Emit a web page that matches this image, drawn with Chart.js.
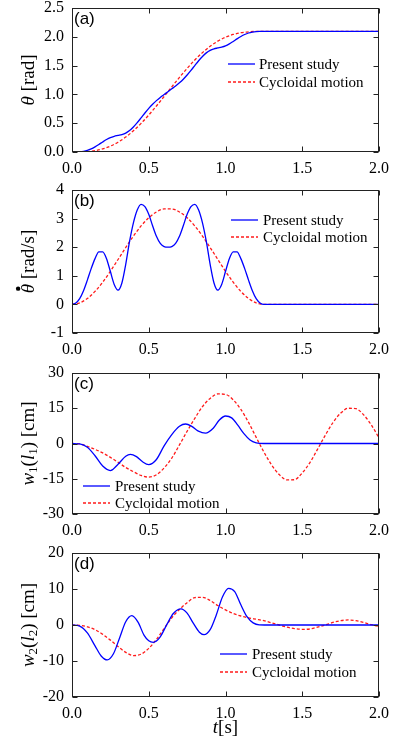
<!DOCTYPE html>
<html><head><meta charset="utf-8">
<script src="https://cdn.jsdelivr.net/npm/chart.js@4.4.1/dist/chart.umd.min.js"></script>
<style>
html,body{margin:0;padding:0;background:#fff;width:396px;height:739px;overflow:hidden;position:relative}
canvas{position:absolute;left:0}
.fl{position:absolute;left:-1000px;top:0;font-size:10px}
</style></head><body>
<span class="fl" style="font-family:'Liberation Serif'">0.5 Present</span>
<span class="fl" style="font-family:'Liberation Serif';font-style:italic">θ w l t</span>
<span class="fl" style="font-family:'Liberation Sans'">(a)</span>
<canvas id="ca" width="396" height="198" style="top:-20px;width:396px;height:198px"></canvas>
<canvas id="cb" width="396" height="198" style="top:158px;width:396px;height:198px"></canvas>
<canvas id="cc" width="396" height="202" style="top:336px;width:396px;height:202px"></canvas>
<canvas id="cd" width="396" height="221" style="top:518px;width:396px;height:221px"></canvas>
<script>
// ---------------- data ----------------
const xTickValues = [0, 0.5, 1.0, 1.5, 2.0];
const seriesNames = ["Present study", "Cycloidal motion"];

// fine time grid for panels (a),(b) "Present study"
const tFine = [0,0.025,0.05,0.075,0.1,0.125,0.15,0.175,0.2,0.225,0.25,0.275,0.3,0.325,0.35,0.375,0.4,0.425,0.45,0.475,0.5,0.525,0.55,0.575,0.6,0.625,0.65,0.675,0.7,0.725,0.75,0.775,0.8,0.825,0.85,0.875,0.9,0.925,0.95,0.975,1.0,1.025,1.05,1.075,1.1,1.125,1.15,1.175,1.2,1.225,1.25,2.0];
// coarse grid for panels (a),(b) "Cycloidal motion"
const tCoarse = [0,0.05,0.1,0.15,0.2,0.25,0.3,0.35,0.4,0.45,0.5,0.55,0.6,0.65,0.7,0.75,0.8,0.85,0.9,0.95,1.0,1.05,1.1,1.15,1.2,1.25,2.0];
// full grid for panels (c),(d) "Cycloidal motion"
const tFull = [0,0.05,0.1,0.15,0.2,0.25,0.3,0.35,0.4,0.45,0.5,0.55,0.6,0.65,0.7,0.75,0.8,0.85,0.9,0.95,1.0,1.05,1.1,1.15,1.2,1.25,1.3,1.35,1.4,1.45,1.5,1.55,1.6,1.65,1.7,1.75,1.8,1.85,1.9,1.95,2.0];

// (a) theta [rad]
const thetaPresent = [0,0.0006,0.0036,0.012,0.028,0.054,0.089,0.130,0.175,0.217,0.251,0.273,0.288,0.303,0.329,0.373,0.435,0.510,0.593,0.677,0.757,0.830,0.892,0.947,0.997,1.047,1.097,1.147,1.202,1.264,1.337,1.417,1.501,1.584,1.659,1.721,1.765,1.791,1.806,1.821,1.843,1.877,1.919,1.964,2.005,2.040,2.066,2.082,2.090,2.093,2.094,2.094];
const thetaCycloidal = [0,0.001,0.007,0.023,0.054,0.102,0.170,0.259,0.369,0.497,0.642,0.799,0.963,1.131,1.295,1.452,1.597,1.725,1.835,1.924,1.992,2.040,2.071,2.087,2.093,2.094,2.094];

// (b) theta dot [rad/s]
const omegaPresent = [0,0.05,0.2,0.48,0.85,1.25,1.6,1.84,1.84,1.6,1.15,0.7,0.5,0.75,1.4,2.2,2.85,3.3,3.5,3.42,3.15,2.75,2.38,2.13,2.02,2.0,2.02,2.13,2.38,2.75,3.15,3.42,3.5,3.3,2.85,2.2,1.4,0.75,0.5,0.7,1.15,1.6,1.84,1.84,1.6,1.25,0.85,0.48,0.2,0.05,0,0];
const omegaCycloidal = [0,0.053,0.207,0.454,0.778,1.157,1.570,1.989,2.388,2.743,3.030,3.232,3.337,3.337,3.232,3.030,2.743,2.388,1.989,1.570,1.157,0.778,0.454,0.207,0.053,0,0];

// (c) w1(l1) [cm]
const tW1Present = [0,0.05,0.1,0.15,0.2,0.25,0.3,0.35,0.38,0.42,0.46,0.5,0.55,0.6,0.65,0.7,0.74,0.78,0.82,0.87,0.92,0.96,1.0,1.04,1.08,1.12,1.16,1.2,1.25,1.5,2.0];
const w1Present = [0,-0.2,-1.6,-5.2,-9.6,-11.5,-8.8,-5.4,-4.6,-5.6,-7.8,-9.0,-6.8,-1.0,3.8,7.3,8.3,7.3,5.4,4.4,6.5,10.0,11.7,10.9,7.8,4.2,1.5,0.3,0,0,0];
const w1Cycloidal = [0,-0.2,-1.2,-2.5,-4.0,-5.9,-8.0,-10.2,-12.0,-13.6,-14.3,-13.3,-10.4,-6.2,-0.6,5.2,10.7,15.7,19.2,21.1,20.9,18.6,14.5,9.0,2.6,-3.6,-9.1,-13.2,-15.5,-15.4,-12.5,-8.1,-2.4,3.5,8.9,12.9,15.0,14.8,12.2,7.9,2.4];

// (d) w2(l2) [cm]
const tW2Present = [0,0.05,0.1,0.15,0.19,0.23,0.27,0.31,0.35,0.39,0.43,0.47,0.5,0.53,0.57,0.62,0.66,0.71,0.75,0.79,0.83,0.86,0.9,0.94,0.98,1.02,1.06,1.1,1.14,1.18,1.22,1.3,2.0];
const w2Present = [0,-0.3,-2.2,-5.8,-8.6,-9.7,-8.0,-3.6,0.9,2.6,0.8,-2.9,-4.4,-4.8,-3.6,0.3,3.2,4.5,3.3,0.5,-2.0,-2.7,-1.3,2.8,7.8,10.2,9.3,5.6,2.3,0.6,0.05,0,0];
const w2Cycloidal = [0,-0.1,-0.5,-1.3,-2.6,-4.2,-6.0,-7.6,-8.5,-8.1,-6.5,-4.0,-1.0,2.0,4.3,6.2,7.6,7.7,6.8,5.4,4.2,3.2,2.5,2.0,1.6,1.2,0.6,0,-0.6,-1.0,-1.2,-1.1,-0.6,0,0.7,1.2,1.4,1.2,0.7,0.1,-0.4];

// y tick values
const yTicksA = [0, 0.5, 1.0, 1.5, 2.0, 2.5];
const yTicksB = [-1, 0, 1, 2, 3, 4];
const yTicksC = [-30, -15, 0, 15, 30];
const yTicksD = [-20, -10, 0, 10, 20];

// ---------------- drawing ----------------
const SERIF = "'Liberation Serif', 'Times New Roman', 'DejaVu Serif', serif";
const SANS = "'Liberation Sans', Arial, sans-serif";
const pts = (t, v) => t.map((x, i) => ({x: x, y: v[i]}));

function drawRich(ctx, segs, cx, cy, rotate, size) {
  ctx.save();
  ctx.translate(cx, cy);
  if (rotate) ctx.rotate(-Math.PI / 2);
  const fontOf = s => (s.i ? 'italic ' : '') + (s.sub ? Math.round(size * 0.68) : size) + 'px ' + SERIF;
  let total = 0;
  segs.forEach(s => { ctx.font = fontOf(s); s.w = ctx.measureText(s.t).width; total += s.w; });
  let x = -total / 2;
  const base = size * 0.33;
  ctx.fillStyle = '#000';
  ctx.textBaseline = 'alphabetic';
  ctx.textAlign = 'left';
  segs.forEach(s => {
    ctx.font = fontOf(s);
    ctx.fillText(s.t, x, base + (s.sub ? size * 0.12 : 0));
    if (s.dot) {
      ctx.beginPath();
      ctx.arc(x + s.w * 0.5, base - size * 0.85, 2.2, 0, Math.PI * 2);
      ctx.fill();
    }
    x += s.w;
  });
  ctx.restore();
}

const decor = {
  id: 'decor',
  afterDraw(chart, args, o) {
    const ctx = chart.ctx, a = chart.chartArea, xs = chart.scales.x, ys = chart.scales.y;
    const line = (x1, y1, x2, y2) => { ctx.beginPath(); ctx.moveTo(x1, y1); ctx.lineTo(x2, y2); ctx.stroke(); };
    ctx.save();
    ctx.strokeStyle = '#222';
    ctx.lineWidth = 1;
    const L = Math.round(a.left) + 0.5, R = Math.round(a.right) - 0.5, T = Math.round(a.top) + 0.5, B = Math.round(a.bottom) - 0.5;
    ctx.strokeRect(L, T, R - L, B - T);
    xTickValues.forEach(v => {
      const x = Math.round(xs.getPixelForValue(v)) + 0.5;
      line(x, B, x, B - 5); line(x, T, x, T + 5);
    });
    ys.ticks.forEach(t => {
      const y = Math.round(ys.getPixelForValue(t.value)) + 0.5;
      line(L, y, L + 5, y); line(R, y, R - 5, y);
    });
    // legend
    chart.data.datasets.forEach((ds, i) => {
      const y = o.legY + i * o.legDy;
      ctx.strokeStyle = ds.borderColor;
      ctx.lineWidth = 1.3;
      ctx.setLineDash(ds.borderDash || []);
      line(o.legX0, y, o.legX1, y);
      ctx.setLineDash([]);
      ctx.fillStyle = '#000';
      ctx.font = '15px ' + SERIF;
      ctx.textBaseline = 'middle';
      ctx.textAlign = 'left';
      ctx.fillText(ds.label, o.legTx, y + 1);
    });
    // panel label
    ctx.fillStyle = '#000';
    ctx.font = '17px ' + SANS;
    ctx.textBaseline = 'middle';
    ctx.textAlign = 'left';
    ctx.fillText(o.panel, a.left + 2, a.top + 11);
    ctx.restore();
    drawRich(ctx, o.ytitle, 28, (a.top + a.bottom) / 2, true, 19);
    if (o.xtitle) drawRich(ctx, o.xtitle, (a.left + a.right) / 2, o.xtitleY, false, 19);
  }
};

function makeChart(id, p) {
  const fmt = p.fmt;
  new Chart(document.getElementById(id), {
    type: 'line',
    data: {
      datasets: [
        {label: seriesNames[0], data: pts(p.t1, p.v1), borderColor: '#0000ff', borderWidth: 1.3,
         pointRadius: 0, cubicInterpolationMode: 'monotone', fill: false},
        {label: seriesNames[1], data: pts(p.t2, p.v2), borderColor: '#ff1a1a', borderWidth: 1.3,
         borderDash: [3, 2], pointRadius: 0, cubicInterpolationMode: 'monotone', fill: false}
      ]
    },
    options: {
      responsive: false, animation: false, devicePixelRatio: 1,
      layout: {padding: {left: 0, right: 15, top: p.top, bottom: 0}},
      plugins: {legend: {display: false}, tooltip: {enabled: false}, title: {display: false}, decor: p.decor},
      scales: {
        x: {type: 'linear', min: 0, max: 2,
            afterBuildTicks: s => { s.ticks = xTickValues.map(v => ({value: v})); },
            afterFit: s => { s.height = p.xh; },
            ticks: {callback: v => Number(v).toFixed(1), font: {family: SERIF, size: 16}, color: '#000', padding: 7, maxRotation: 0, autoSkip: false},
            grid: {display: false, drawTicks: false}, border: {display: false}},
        y: {type: 'linear', min: p.ymin, max: p.ymax,
            afterBuildTicks: s => { s.ticks = p.yticks.map(v => ({value: v})); },
            afterFit: s => { s.width = 72; },
            ticks: {callback: v => fmt(v), font: {family: SERIF, size: 16}, color: '#000', padding: 8, autoSkip: false},
            grid: {display: false, drawTicks: false}, border: {display: false}}
      }
    },
    plugins: [decor]
  });
}

function drawAll() {
  makeChart('ca', {t1: tFine, v1: thetaPresent, t2: tCoarse, v2: thetaCycloidal,
    ymin: 0, ymax: 2.5, yticks: yTicksA, fmt: v => Number(v).toFixed(1), top: 28, xh: 26,
    decor: {legX0: 228, legX1: 255, legTx: 259, legY: 84, legDy: 18, panel: '(a)',
      ytitle: [{t: 'θ', i: true}, {t: ' [rad]'}]}});

  makeChart('cb', {t1: tFine, v1: omegaPresent, t2: tCoarse, v2: omegaCycloidal,
    ymin: -1, ymax: 4, yticks: yTicksB, fmt: v => String(v), top: 32, xh: 23,
    decor: {legX0: 231, legX1: 258, legTx: 263, legY: 62, legDy: 17, panel: '(b)',
      ytitle: [{t: 'θ', i: true, dot: true}, {t: ' [rad/s]'}]}});

  makeChart('cc', {t1: tW1Present, v1: w1Present, t2: tFull, v2: w1Cycloidal,
    ymin: -30, ymax: 30, yticks: yTicksC, fmt: v => String(v), top: 37, xh: 24,
    decor: {legX0: 83, legX1: 110, legTx: 115, legY: 150, legDy: 17, panel: '(c)',
      ytitle: [{t: 'w', i: true}, {t: '1', sub: true}, {t: '('}, {t: 'l', i: true}, {t: '1', sub: true}, {t: ') [cm]'}]}});

  makeChart('cd', {t1: tW2Present, v1: w2Present, t2: tFull, v2: w2Cycloidal,
    ymin: -20, ymax: 20, yticks: yTicksD, fmt: v => String(v), top: 35, xh: 42,
    decor: {legX0: 220, legX1: 247, legTx: 252, legY: 136, legDy: 18, panel: '(d)',
      ytitle: [{t: 'w', i: true}, {t: '2', sub: true}, {t: '('}, {t: 'l', i: true}, {t: '2', sub: true}, {t: ') [cm]'}],
      xtitle: [{t: 't', i: true}, {t: '[s]'}], xtitleY: 209}});
}

const fontLoads = [
  "16px 'Liberation Serif'", "italic 19px 'Liberation Serif'", "17px 'Liberation Sans'"
].map(f => document.fonts.load(f).catch(() => null));
Promise.all(fontLoads).then(drawAll, drawAll);
</script>
</body></html>
